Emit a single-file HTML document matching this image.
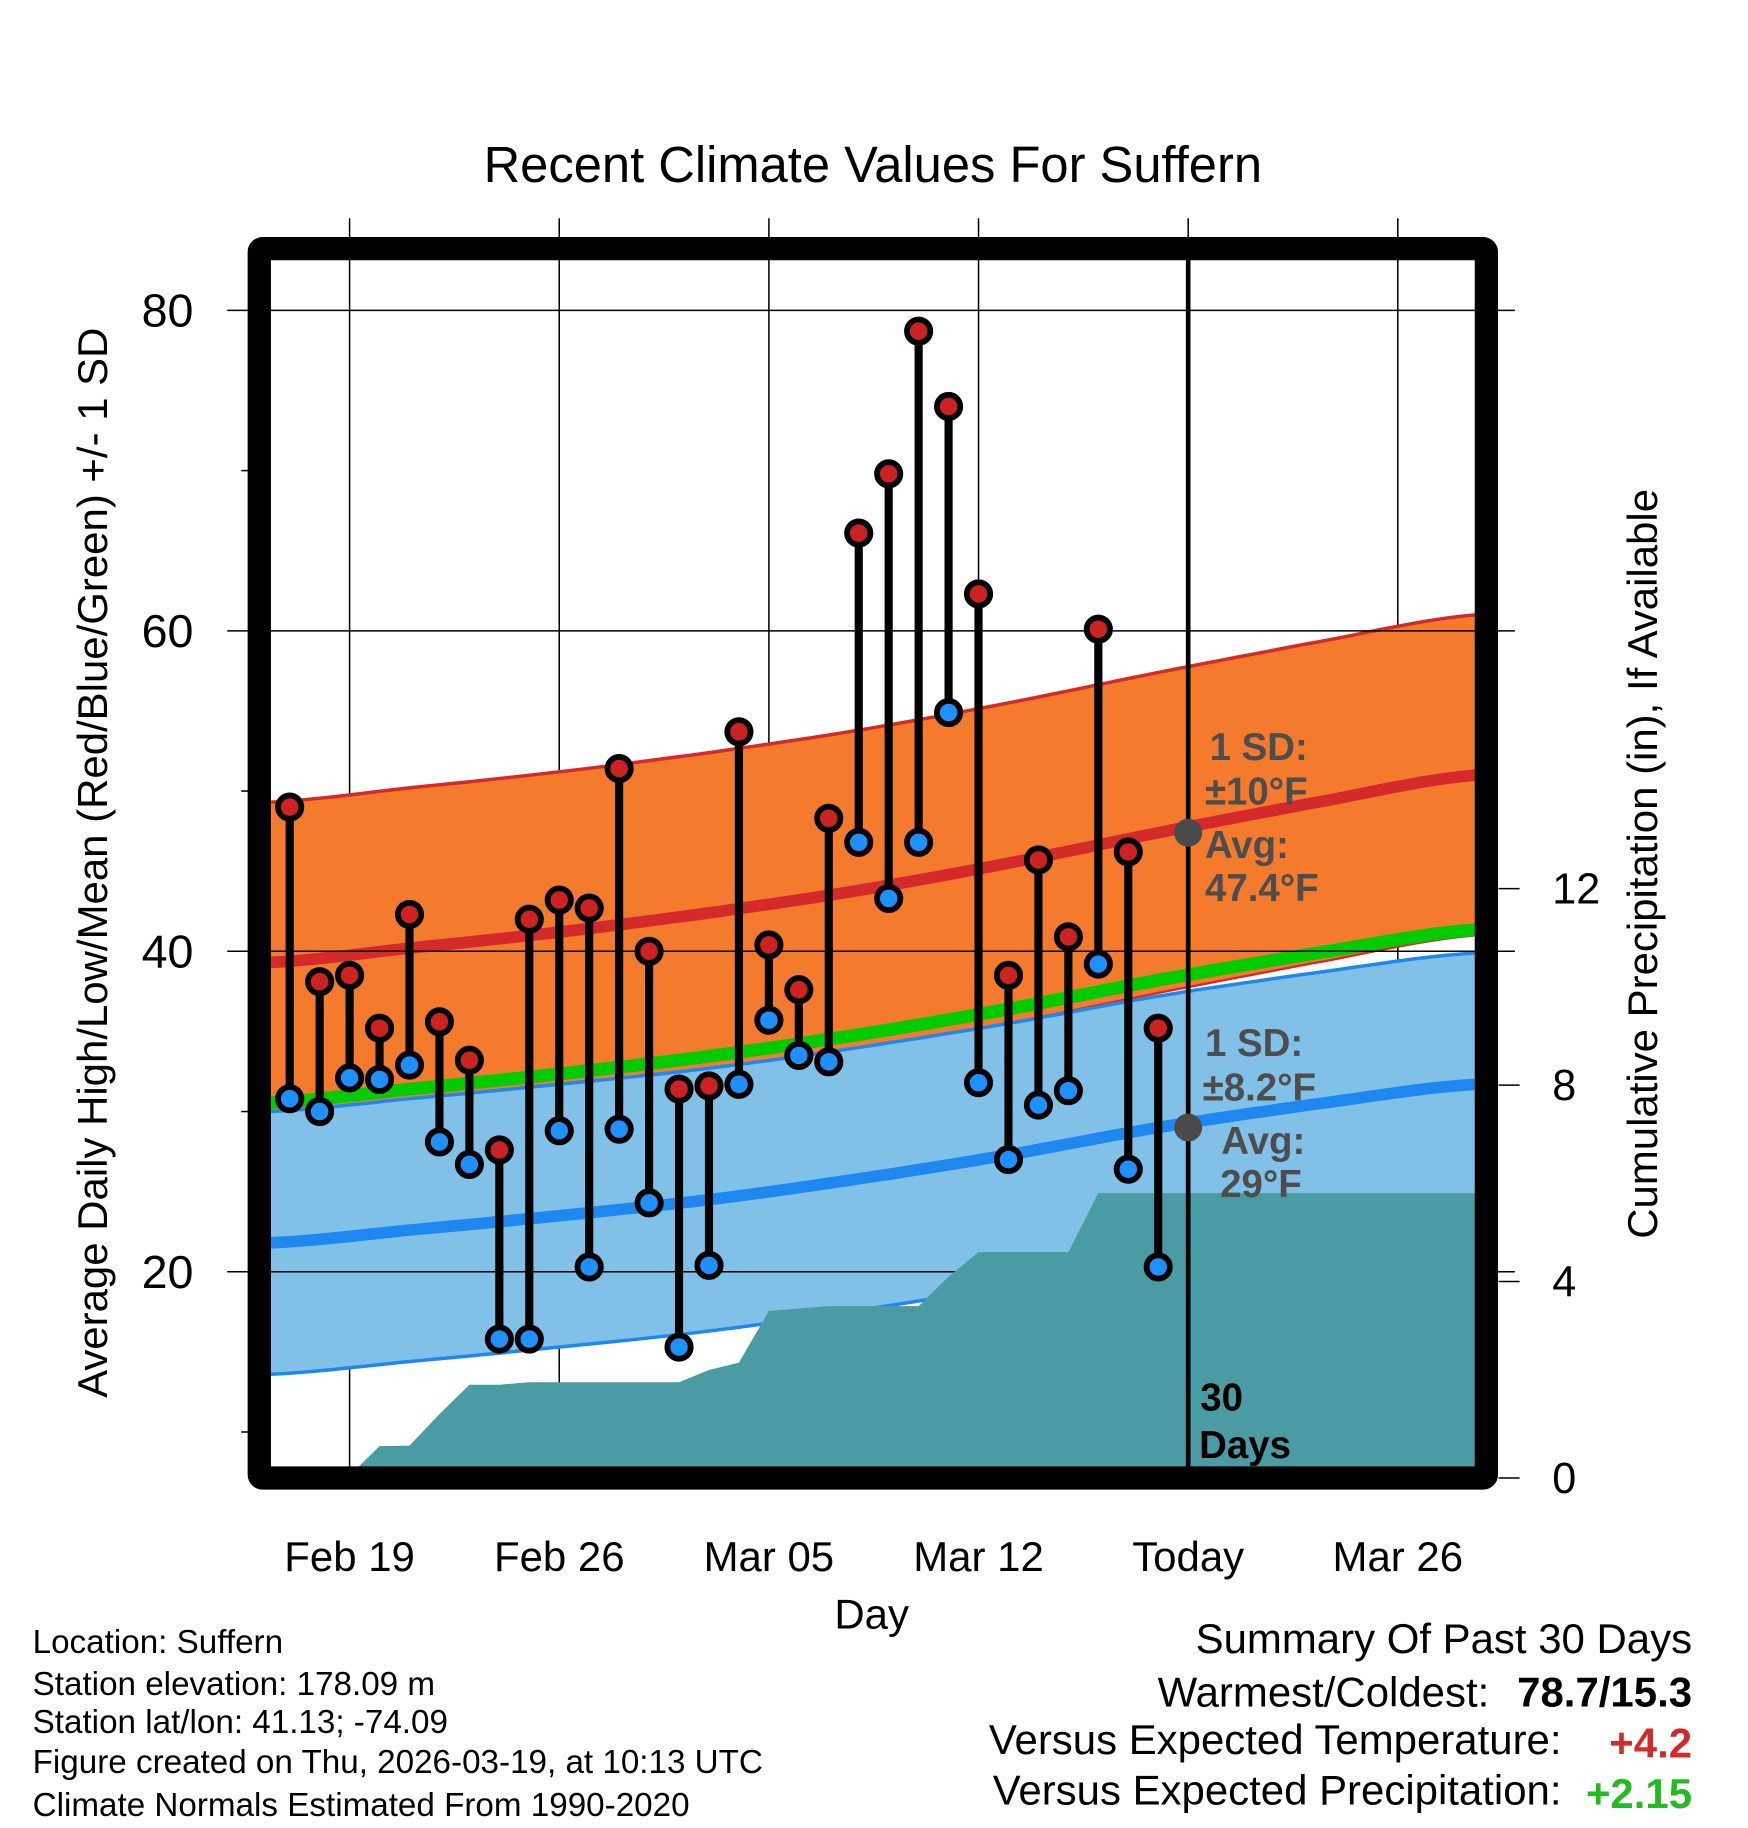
<!DOCTYPE html>
<html><head><meta charset="utf-8"><style>
html,body{margin:0;padding:0;background:#fff;overflow:hidden;}
svg{display:block;font-family:"Liberation Sans",Arial,sans-serif;}
</style></head><body>
<svg id="chart" width="1748" height="1828" viewBox="0 0 1500 1568" xmlns="http://www.w3.org/2000/svg" style="position:absolute;left:0;top:0">
<g id="layer"></g>
</svg>
<script>
// ---- data ----
const dayOffsets = [-2,-1,0,1,2,3,4,5,6,7,8,9,10,11,12,13,14,15,16,17,18,19,20,21,22,23,24,25,26,27];
const highs = [49,38.1,38.5,35.2,42.3,35.6,33.2,27.6,42,43.2,42.7,51.4,40,31.4,31.6,53.7,40.4,37.6,48.3,66.1,69.8,78.7,74,62.3,38.5,45.7,40.9,60.1,46.2,35.2];
const lows = [30.8,30,32.1,32,32.9,28.1,26.7,15.8,15.8,28.8,20.3,28.9,24.3,15.3,20.4,31.7,35.7,33.5,33.1,46.8,43.3,46.8,54.9,31.8,27,30.4,31.3,39.2,26.4,20.3];
const precip = [0,0,0.05,0.65,0.66,1.3,1.9,1.9,1.95,1.95,1.95,1.95,1.95,1.95,2.2,2.35,3.4,3.45,3.5,3.5,3.5,3.5,4.1,4.6,4.6,4.6,4.6,5.8,5.8,5.8];
const normDays = [-2.66,2,7,12,17,22,27,32,37.6];
const normHigh = [39.3,40.2,41.2,42.4,43.8,45.5,47.4,49.2,51.0];
const normLow = [21.8,22.6,23.5,24.5,25.8,27.3,29.0,30.4,31.7];
const highSD = 10, lowSD = 8.2;
const yTicks = [20,40,60,80];
const precipTicks = [0,4,8,12];
const xTickDays = [0,7,14,21,28,35];
const xTickLabels = ["Feb 19","Feb 26","Mar 05","Mar 12","Today","Mar 26"];
const todayDay = 28;

// ---- axes ----
const X0=232,X1=1267,Y0=222,Y1=1259;
const x = d => 300 + d*25.7;
const y = v => 266 + (80-v)*13.75;
const yp = p => 1268 - p*42.15;
const NS="http://www.w3.org/2000/svg";
const L=document.getElementById('layer');
function el(tag,attrs,parent){const e=document.createElementNS(NS,tag);for(const k in attrs)e.setAttribute(k,attrs[k]);(parent||L).appendChild(e);return e;}
function interp(xs,ys,t){
  // Catmull-Rom smooth interpolation
  let i=1; while(i<xs.length-1 && t>xs[i]) i++;
  const f=Math.max(0,Math.min(1,(t-xs[i-1])/(xs[i]-xs[i-1])));
  const p0=ys[Math.max(0,i-2)],p1=ys[i-1],p2=ys[i],p3=ys[Math.min(ys.length-1,i+1)];
  return 0.5*((2*p1)+(-p0+p2)*f+(2*p0-5*p1+4*p2-p3)*f*f+(-p0+3*p1-3*p2+p3)*f*f*f);
}
const dStart=(X0-300)/25.7, dEnd=(X1-300)/25.7;
const samples=[];for(let i=0;i<=80;i++)samples.push(dStart+(dEnd-dStart)*i/80);
function linePts(fn){return samples.map(d=>x(d).toFixed(1)+','+y(fn(d)).toFixed(1));}
const H=d=>interp(normDays,normHigh,d), Lo=d=>interp(normDays,normLow,d);

const defs=el('defs',{});
const cp=el('clipPath',{id:'plotclip'},defs);
el('rect',{x:X0,y:Y0,width:X1-X0,height:Y1-Y0},cp);

xTickDays.forEach(d=>{const g=el('line',{x1:x(d),x2:x(d),y1:187,y2:1259,stroke:'#000','stroke-width':1.3});

});

const P=el('g',{'clip-path':'url(#plotclip)'});


let up=linePts(d=>H(d)+highSD), dn=linePts(d=>H(d)-highSD).reverse();
let ob=el('polygon',{points:up.concat(dn).join(' '),fill:'#f47a2e'},P);


el('polyline',{points:up.join(' '),fill:'none',stroke:'#d42a2a','stroke-width':3},P);
el('polyline',{points:linePts(d=>H(d)-highSD).join(' '),fill:'none',stroke:'#d42a2a','stroke-width':2},P);
up=linePts(d=>Lo(d)+lowSD); dn=linePts(d=>Lo(d)-lowSD).reverse();
let bb=el('polygon',{points:up.concat(dn).join(' '),fill:'#82c1e7'},P);


el('polyline',{points:up.join(' '),fill:'none',stroke:'#1e88f0','stroke-width':3},P);
el('polyline',{points:linePts(d=>Lo(d)-lowSD).join(' '),fill:'none',stroke:'#1e88f0','stroke-width':3},P);
let gl=el('polyline',{points:linePts(d=>(H(d)+Lo(d))/2).join(' '),fill:'none',stroke:'#00cc00','stroke-width':11},P);


let rl=el('polyline',{points:linePts(H).join(' '),fill:'none',stroke:'#d42a2a','stroke-width':10},P);


let bl=el('polyline',{points:linePts(Lo).join(' '),fill:'none',stroke:'#1e88f0','stroke-width':10},P);


yTicks.forEach(v=>{const g=el('line',{x1:195,x2:1300,y1:y(v),y2:y(v),stroke:'#000','stroke-width':1.3});

});
let pp=[x(dayOffsets[0]-1.5)+','+yp(0)];
dayOffsets.forEach((d,i)=>pp.push(x(d)+','+yp(precip[i])));
pp.push(X1+','+yp(precip[precip.length-1]));
pp.push(X1+','+(Y1+5));
pp.push(X0+','+(Y1+5));
pp.push(X0+','+yp(0));
let pa=el('polygon',{points:pp.join(' '),fill:'#4a9ba4','clip-path':'url(#plotclip)'});


let tl=el('line',{x1:x(todayDay),x2:x(todayDay),y1:Y0,y2:Y1,stroke:'#000','stroke-width':4});


dayOffsets.forEach((d,i)=>{
 const g=el('g',{});
 
 
 el('line',{x1:x(d),x2:x(d),y1:y(highs[i]),y2:y(lows[i]),stroke:'#000','stroke-width':7},g);
 const h=el('circle',{cx:x(d),cy:y(highs[i]),r:10,fill:'#cc2222',stroke:'#000','stroke-width':5},g);
 
 
 const l=el('circle',{cx:x(d),cy:y(lows[i]),r:10,fill:'#1e90ff',stroke:'#000','stroke-width':5},g);
 
 
});
[H(todayDay-1),Lo(todayDay-1)].forEach((v,i)=>{const c=el('circle',{cx:x(todayDay),cy:y(v),r:12,fill:'#4a4a4a'});

});
let fr=el('rect',{x:222.5,y:213,width:1053,height:1055,fill:'none',stroke:'#000','stroke-width':20,rx:3});


yTicks.forEach(v=>{const t=el('text',{x:166,y:y(v)+14,'font-size':40,'text-anchor':'end'});t.textContent=v;

});
[10,30,50,70].forEach(v=>el('line',{x1:207,x2:214,y1:y(v),y2:y(v),stroke:'#000','stroke-width':1.3}));
precipTicks.forEach(p=>{el('line',{x1:1286,x2:1304,y1:yp(p),y2:yp(p),stroke:'#000','stroke-width':1.3});
const t=el('text',{x:1332,y:yp(p)+13,'font-size':37});t.textContent=p;

});
xTickDays.forEach((d,i)=>{const t=el('text',{x:x(d),y:1348,'font-size':36,'text-anchor':'middle'});t.textContent=xTickLabels[i];

});
</script>
<svg style="position:absolute;left:0;top:0" width="1748" height="1828" viewBox="0 0 1500 1568" xmlns="http://www.w3.org/2000/svg" font-family="Liberation Sans, Arial, sans-serif">
<text x="749" y="156" font-size="43.5" text-anchor="middle">Recent Climate Values For Suffern</text>
<text transform="translate(92,740) rotate(-90)" font-size="36" text-anchor="middle">Average Daily High/Low/Mean (Red/Blue/Green) +/- 1 SD</text>
<text transform="translate(1422,741) rotate(-90)" font-size="36" text-anchor="middle">Cumulative Precipitation (in), If Available</text>
<text x="748" y="1397" font-size="36" text-anchor="middle">Day</text>
<g font-size="33" font-weight="bold" fill="#4d4d4d">
<text x="1038" y="652">1 SD:</text><text x="1034" y="690">±10°F</text>
<text x="1034" y="736">Avg:</text><text x="1034" y="773">47.4°F</text></g>
<g font-size="33" font-weight="bold" fill="#4d4d4d">
<text x="1034" y="906">1 SD:</text><text x="1032" y="944">±8.2°F</text>
<text x="1048" y="990">Avg:</text><text x="1047" y="1027">29°F</text></g>
<g font-size="33" font-weight="bold">
<text x="1030" y="1210">30</text><text x="1029" y="1251">Days</text></g>
<g font-size="28.5">
<text x="28" y="1418">Location: Suffern</text>
<text x="28" y="1454">Station elevation: 178.09 m</text>
<text x="28" y="1487">Station lat/lon: 41.13; -74.09</text>
<text x="28" y="1521">Figure created on Thu, 2026-03-19, at 10:13 UTC</text>
<text x="28" y="1558">Climate Normals Estimated From 1990-2020</text></g>
<g font-size="36">
<text x="1452" y="1418" text-anchor="end">Summary Of Past 30 Days</text>
<text x="1278" y="1464" text-anchor="end">Warmest/Coldest:</text>
<text x="1452" y="1464" text-anchor="end" font-weight="bold">78.7/15.3</text>
<text x="1340" y="1505" text-anchor="end">Versus Expected Temperature:</text>
<text x="1452" y="1508" text-anchor="end" font-weight="bold" fill="#d42a2a">+4.2</text>
<text x="1340" y="1548" text-anchor="end">Versus Expected Precipitation:</text>
<text x="1452" y="1551" text-anchor="end" font-weight="bold" fill="#22bb22">+2.15</text></g>
</svg>
</body></html>
